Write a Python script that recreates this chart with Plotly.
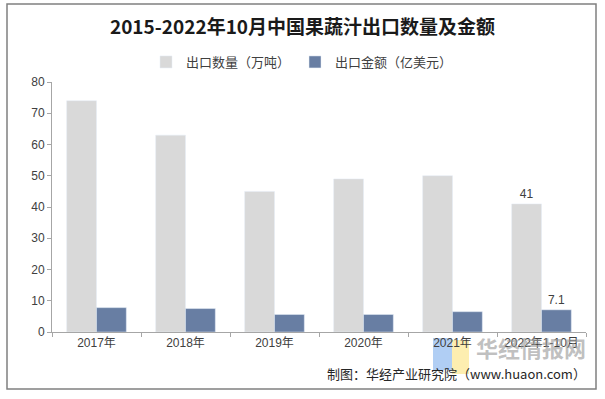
import plotly.graph_objects as go

categories = ["2017年", "2018年", "2019年", "2020年", "2021年", "2022年1-10月"]
volume = [74, 63, 45, 49, 50, 41]
value = [7.8, 7.5, 5.6, 5.6, 6.5, 7.1]
volume_labels = ["", "", "", "", "", "41"]
value_labels = ["", "", "", "", "", "7.1"]
y_ticks = [0, 10, 20, 30, 40, 50, 60, 70, 80]

# plot area in pixels: x 52..586, y 82..332
L, R, T, B = 52, 586, 82, 332
W, H = R - L, B - T
def px(x): return (x - L) / W
def py(y): return (B - y) / H

fig = go.Figure()
fig.add_trace(go.Bar(x=categories, y=volume, name="出口数量（万吨）",
                     marker=dict(color="#d9d9d9"), text=volume_labels,
                     textposition="outside", cliponaxis=False,
                     textfont=dict(size=12, color="#404040", family="Liberation Sans")))
fig.add_trace(go.Bar(x=categories, y=value, name="出口金额（亿美元）",
                     marker=dict(color="#687ea3"), text=value_labels,
                     textposition="outside", cliponaxis=False,
                     textfont=dict(size=12, color="#404040", family="Liberation Sans")))

fig.update_layout(
    width=605, height=399,
    margin=dict(l=L, r=605 - R, t=T, b=399 - B, autoexpand=False),
    paper_bgcolor="white", plot_bgcolor="white",
    barmode="group", bargap=0.33, bargroupgap=0,
    title=dict(text="<b>2015-2022年10月中国果蔬汁出口数量及金额</b>", x=0.5, xanchor="center",
               y=1 - 27 / 399, yanchor="middle",
               font=dict(size=19, color="#1a1a1a", family="Noto Sans CJK SC")),
    legend=dict(orientation="h", x=px(302), xanchor="center", y=py(62), yanchor="middle",
                font=dict(size=13, color="#404040", family="Noto Sans CJK SC"),
                itemwidth=30, tracegroupgap=0),
    showlegend=True,
    hovermode=False,
    xaxis=dict(showline=True, linecolor="#a6a6a6", linewidth=1, ticks="outside",
               tickson="boundaries", ticklen=4, tickcolor="#a6a6a6",
               tickfont=dict(size=12, color="#404040", family="Liberation Sans, Noto Sans CJK SC")),
    yaxis=dict(range=[0, 80], tickvals=y_ticks, showgrid=False, zeroline=False,
               showline=True, linecolor="#a6a6a6", linewidth=1, ticks="outside",
               ticklen=4, tickcolor="#a6a6a6",
               tickfont=dict(size=12, color="#404040", family="Liberation Sans")),
    font=dict(family="Noto Sans CJK SC"),
)

# outer frame
fig.add_shape(type="rect", xref="paper", yref="paper",
              x0=px(7), x1=px(596), y0=py(389), y1=py(4),
              line=dict(color="#808080", width=1.5), fillcolor="rgba(0,0,0,0)")

# watermark logo blocks
fig.add_shape(type="rect", xref="paper", yref="paper", layer="below",
              x0=px(433), x1=px(452), y0=py(370), y1=py(338),
              line=dict(width=0), fillcolor="rgba(150,190,240,0.75)")
fig.add_shape(type="rect", xref="paper", yref="paper", layer="below",
              x0=px(452), x1=px(469), y0=py(374), y1=py(340),
              line=dict(width=0), fillcolor="rgba(252,232,150,0.75)")

fig.add_annotation(text="<b>华经情报网</b>", xref="paper", yref="paper", x=px(531), y=py(347),
                   showarrow=False, xanchor="center", yanchor="middle",
                   font=dict(size=22, color="rgba(150,150,150,0.6)", family="Noto Sans CJK SC"))
fig.add_annotation(text="制图：华经产业研究院（www.huaon.com）", xref="paper", yref="paper",
                   x=px(588), y=py(373), showarrow=False, xanchor="right", yanchor="middle",
                   font=dict(size=13, color="#262626", family="Noto Sans CJK SC"))

fig.write_html("out.html", config={"displayModeBar": False},
               post_script="document.body.style.margin='0px';document.body.style.overflow='hidden';")
